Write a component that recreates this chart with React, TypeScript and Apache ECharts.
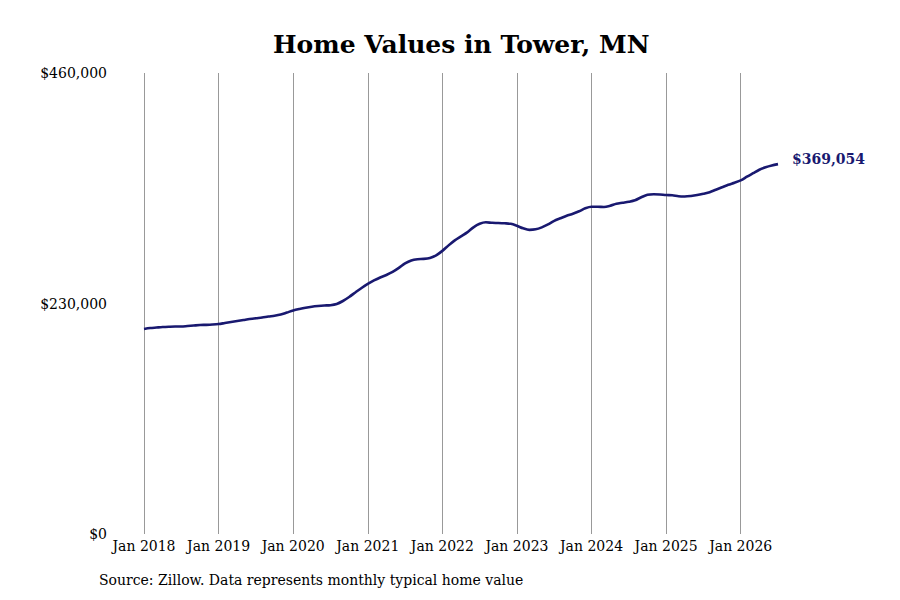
import { useEffect, useRef } from "react";
import * as echarts from "echarts";

const FONT = "'DejaVu Serif', serif";
const LINE_COLOR = "#191970";

const YEARS = [2018, 2019, 2020, 2021, 2022, 2023, 2024, 2025, 2026];
const MONTHS = ["Jan", "Feb", "Mar", "Apr", "May", "Jun", "Jul", "Aug", "Sep", "Oct", "Nov", "Dec"];

// typical home value, monthly Jan 2018 .. Jul 2026 (thousands of $)
const values2018 = [204.5, 205.5, 206, 206.5, 206.8, 207, 207, 207.5, 208, 208.5, 208.7, 209];
const values2019 = [209.5, 210.5, 211.5, 212.5, 213.5, 214.5, 215.3, 216, 217, 217.8, 219, 221];
const values2020 = [223, 224.5, 225.8, 226.8, 227.5, 228, 228.3, 229.5, 232.5, 236.5, 241, 245.5];
const values2021 = [249.5, 253, 256, 258.5, 261.5, 265.5, 270, 273, 274.2, 274.5, 275.5, 278];
const values2022 = [282.5, 288, 293, 297, 301, 306, 309.5, 311, 310.5, 310.3, 310, 309.5];
const values2023 = [307.5, 305, 303.5, 304, 306, 309, 312.5, 315, 317.5, 319.5, 322, 325];
const values2024 = [326.5, 326.5, 326.3, 327.5, 329.5, 330.5, 331.5, 333, 336, 338.5, 339, 338.8];
const values2025 = [338.2, 338, 337, 336.8, 337.3, 338.2, 339.5, 341, 343.5, 346, 348.5, 350.5];
const values2026 = [352.8, 356.5, 360, 363.5, 366, 367.8, 369.054];

const values = [
  ...values2018,
  ...values2019,
  ...values2020,
  ...values2021,
  ...values2022,
  ...values2023,
  ...values2024,
  ...values2025,
  ...values2026,
].map((v) => Math.round(v * 1000));

const months = values.map(
  (_, i) => `${MONTHS[i % 12]} ${YEARS[Math.floor(i / 12)]}`,
);

const money = (v: number) => "$" + v.toLocaleString("en-US");

export default function App() {
  const ref = useRef<HTMLDivElement | null>(null);

  useEffect(() => {
    if (!ref.current) return;
    const chart = echarts.init(ref.current, undefined, { renderer: "svg" });

    chart.setOption({
      animation: false,
      backgroundColor: "#ffffff",
      textStyle: { fontFamily: FONT },
      title: {
        text: "Home Values in Tower, MN",
        left: 268,
        top: 27,
        textStyle: {
          fontFamily: FONT,
          fontSize: 25,
          fontWeight: "bold",
          color: "#000",
        },
      },
      graphic: [
        {
          type: "text",
          left: 99,
          top: 573,
          style: {
            text: "Source: Zillow. Data represents monthly typical home value",
            font: `14px ${FONT}`,
            fill: "#000",
          },
        },
      ],
      grid: { left: 144, right: 122, top: 73, bottom: 66 },
      xAxis: {
        type: "category",
        data: months,
        boundaryGap: false,
        axisLine: { show: false },
        axisTick: { show: false },
        axisLabel: {
          interval: (i: number) => i % 12 === 0,
          fontFamily: FONT,
          fontSize: 14,
          color: "#000",
          margin: 5,
        },
        splitLine: {
          show: true,
          interval: (i: number) => i % 12 === 0,
          lineStyle: { color: "#999", width: 1 },
        },
      },
      yAxis: {
        type: "value",
        min: 0,
        max: 460000,
        interval: 230000,
        axisLine: { show: false },
        axisTick: { show: false },
        splitLine: { show: false },
        axisLabel: {
          formatter: (v: number) => money(v),
          fontFamily: FONT,
          fontSize: 14,
          color: "#000",
          margin: 37,
        },
      },
      series: [
        {
          type: "line",
          data: values,
          smooth: 0.3,
          showSymbol: false,
          lineStyle: { color: LINE_COLOR, width: 2.6 },
          endLabel: {
            show: true,
            formatter: (p: { value: number }) => money(p.value),
            fontFamily: FONT,
            fontSize: 14,
            fontWeight: "bold",
            color: LINE_COLOR,
            distance: 14,
            offset: [0, -5],
          },
        },
      ],
    });

    return () => chart.dispose();
  }, []);

  return <div ref={ref} style={{ width: 900, height: 600, margin: -8 }} />;
}
